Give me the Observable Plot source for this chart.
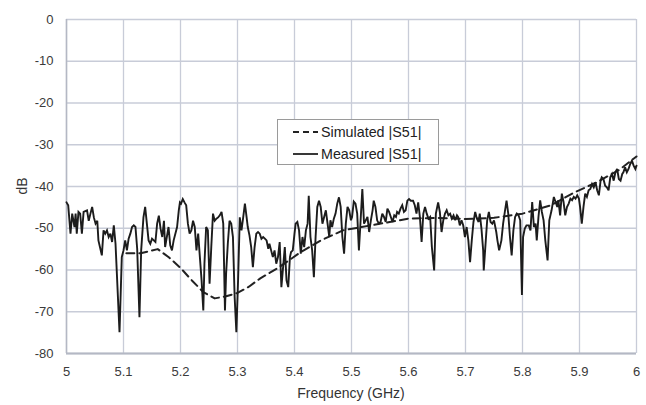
<!DOCTYPE html>
<html>
<head>
<meta charset="utf-8">
<script src="https://cdn.jsdelivr.net/npm/d3@7"></script>
<script src="https://cdn.jsdelivr.net/npm/@observablehq/plot@0.6"></script>
<style>
  html, body { margin: 0; padding: 0; background: #fff; }
  #wrap { position: relative; width: 646px; height: 405px; font-family: "Liberation Sans", Arial, sans-serif; }
  #legend { position: absolute; left: 277px; top: 119px; width: 162px; height: 46px; border: 1px solid #9a9a9a; background: #fff; box-sizing: border-box; font-size: 14.3px; color: #222; }
  .row { position: absolute; left: 0; height: 20px; display: flex; align-items: center; }
  .row svg { margin-left: 15px; margin-right: 3px; }
  .axlabel { position: absolute; font-size: 14px; color: #333; white-space: nowrap; }
  #xlab { left: 0; width: 646px; padding-left: 56px; box-sizing: border-box; text-align: center; top: 385px; }
  #ylab { left: 22px; top: 186px; transform: translate(-50%, -50%) rotate(-90deg); }
</style>
</head>
<body>
<div id="wrap"></div>
<script>
const xTicks = [5, 5.1, 5.2, 5.3, 5.4, 5.5, 5.6, 5.7, 5.8, 5.9, 6];
const yTicks = [0, -10, -20, -30, -40, -50, -60, -70, -80];
const seriesNames = ["Simulated |S51|", "Measured |S51|"];
const xLabel = "Frequency (GHz)";
const yLabel = "dB";

const simFreq = [5.105, 5.13, 5.16, 5.18, 5.20, 5.22, 5.24, 5.26, 5.28, 5.30, 5.32, 5.34, 5.37, 5.41, 5.445, 5.485, 5.555, 5.60, 5.65, 5.70, 5.75, 5.80, 5.85, 5.89, 5.93, 5.97, 6.00];
const simDb   = [-56, -56, -55, -57, -59.5, -62.5, -65.3, -66.8, -66.3, -65.5, -64, -62, -59.6, -55.8, -53, -50.5, -48.8, -47.7, -47.5, -47.8, -47.5, -46.5, -44.5, -41.5, -39, -36, -32.8];

const measFreq = [
5.000,5.003,5.007,5.010,5.014,5.016,5.018,5.021,5.024,5.027,5.030,5.036,5.039,5.042,5.045,5.048,5.051,5.054,5.056,5.062,
5.065,5.068,5.071,5.074,5.077,5.080,5.083,5.086,5.093,5.097,5.100,5.103,5.106,5.109,5.112,5.115,5.118,5.121,5.124,5.128,
5.131,5.135,5.138,5.141,5.144,5.147,5.150,5.156,5.159,5.162,5.165,5.168,5.171,5.173,5.179,5.182,5.185,5.188,5.194,5.197,
5.199,5.201,5.204,5.207,5.210,5.213,5.216,5.219,5.222,5.225,5.228,5.231,5.234,5.237,5.240,5.242,5.245,5.248,5.251,5.254,
5.257,5.260,5.263,5.266,5.269,5.272,5.275,5.278,5.280,5.283,5.286,5.289,5.292,5.295,5.298,5.301,5.304,5.307,5.310,5.313,
5.316,5.318,5.321,5.324,5.327,5.330,5.333,5.336,5.339,5.342,5.345,5.348,5.351,5.354,5.356,5.359,5.362,5.365,5.368,5.371,
5.374,5.377,5.380,5.383,5.386,5.389,5.392,5.394,5.397,5.400,5.402,5.405,5.408,5.411,5.414,5.417,5.420,5.423,5.425,5.428,
5.431,5.434,5.437,5.440,5.443,5.446,5.449,5.452,5.455,5.458,5.461,5.463,5.466,5.469,5.472,5.475,5.478,5.481,5.484,5.487,
5.490,5.493,5.496,5.499,5.501,5.504,5.507,5.510,5.513,5.516,5.519,5.522,5.525,5.528,5.531,5.534,5.537,5.539,5.542,5.545,
5.548,5.551,5.554,5.557,5.560,5.563,5.566,5.569,5.572,5.575,5.578,5.580,5.583,5.586,5.589,5.592,5.595,5.598,5.601,5.604,
5.608,5.611,5.614,5.617,5.620,5.623,5.626,5.629,5.632,5.635,5.638,5.641,5.645,5.648,5.652,5.655,5.658,5.661,5.664,5.667,
5.670,5.673,5.676,5.679,5.682,5.685,5.687,5.690,5.693,5.696,5.699,5.702,5.705,5.708,5.711,5.714,5.717,5.720,5.723,5.725,
5.728,5.731,5.732,5.736,5.738,5.741,5.744,5.747,5.750,5.754,5.756,5.759,5.763,5.766,5.769,5.772,5.775,5.778,5.781,5.784,
5.787,5.790,5.793,5.796,5.799,5.801,5.804,5.807,5.811,5.814,5.817,5.820,5.823,5.825,5.828,5.831,5.834,5.837,5.840,5.844,
5.847,5.851,5.855,5.858,5.861,5.863,5.866,5.869,5.872,5.875,5.878,5.881,5.884,5.887,5.890,5.893,5.896,5.899,5.901,5.904,
5.907,5.910,5.913,5.916,5.919,5.922,5.925,5.928,5.931,5.934,5.937,5.939,5.942,5.945,5.948,5.951,5.954,5.957,5.960,5.963,
5.966,5.969,5.972,5.975,5.977,5.980,5.983,5.986,5.989,5.992,5.995,5.998,6.000
];
const measDb = [
-43.8,-44.5,-51.3,-46.5,-49.7,-46.5,-51.3,-46.1,-46.5,-51.3,-46.1,-45.7,-48.2,-46.5,-44.9,-47.4,-48.9,-48.2,-52.9,-56.5,
-50.5,-51.3,-50.5,-52.1,-51.3,-53.3,-49.3,-53.7,-74.9,-56.9,-55.3,-52.9,-55.3,-52.5,-51.3,-49.7,-49.3,-49.7,-54.9,-71.3,
-55.3,-47.4,-44.9,-48.9,-52.9,-53.7,-52.5,-53.3,-48.9,-47.0,-50.1,-52.1,-48.2,-54.5,-49.7,-54.1,-55.3,-52.9,-49.7,-45.7,
-43.8,-44.1,-43.0,-43.8,-44.5,-48.9,-51.3,-50.5,-48.2,-49.7,-55.3,-51.3,-56.9,-62.5,-69.7,-58.5,-49.7,-50.5,-63.3,-54.5,
-46.5,-48.2,-47.7,-47.4,-46.9,-46.1,-48.9,-69.7,-60.9,-53.7,-48.2,-48.9,-52.1,-66.5,-74.9,-62.5,-47.4,-50.5,-47.4,-44.1,
-47.4,-49.7,-51.7,-54.5,-59.3,-54.5,-51.3,-50.9,-51.3,-52.5,-52.1,-52.5,-52.9,-54.9,-53.7,-55.3,-56.9,-55.3,-58.5,-56.9,
-53.3,-64.1,-59.3,-54.5,-62.5,-64.1,-56.9,-55.7,-55.3,-51.3,-48.9,-48.5,-50.5,-56.1,-52.1,-54.5,-50.5,-48.9,-42.2,-52.1,
-55.3,-61.7,-52.1,-44.9,-43.4,-44.9,-48.9,-47.3,-45.7,-48.9,-52.1,-48.1,-49.7,-47.7,-46.5,-44.1,-42.6,-44.9,-52.1,-56.1,
-48.9,-44.9,-45.7,-48.1,-47.3,-43.6,-44.1,-46.5,-55.3,-48.1,-40.6,-48.9,-48.1,-47.3,-50.9,-48.1,-45.7,-43.4,-44.9,-48.1,
-48.9,-48.5,-46.5,-47.3,-48.5,-45.3,-46.1,-47.3,-48.5,-46.9,-47.3,-46.1,-46.5,-45.3,-44.5,-46.1,-45.7,-43.4,-43.0,-43.4,
-43.4,-44.5,-46.5,-43.8,-47.3,-53.3,-46.5,-44.9,-46.5,-47.7,-47.3,-54.5,-60.1,-46.5,-43.8,-46.1,-50.9,-48.1,-46.5,-45.7,
-46.9,-46.5,-47.7,-46.9,-48.1,-46.9,-47.3,-49.3,-48.1,-49.3,-52.1,-49.7,-52.9,-58.1,-52.9,-48.5,-46.1,-47.7,-48.5,-46.5,
-50.1,-55.3,-60.1,-52.1,-48.1,-46.1,-48.5,-48.9,-48.1,-50.9,-52.9,-55.3,-52.9,-48.9,-46.1,-43.4,-46.5,-52.1,-56.5,-50.5,
-47.3,-46.5,-46.9,-48.1,-66.0,-52.1,-50.1,-49.3,-49.3,-50.5,-43.7,-49.7,-48.9,-52.9,-47.3,-43.3,-46.1,-48.1,-52.9,-57.7,
-48.1,-45.7,-42.5,-43.7,-44.9,-43.3,-46.9,-41.7,-43.7,-46.9,-44.9,-44.1,-42.9,-43.3,-42.5,-42.9,-42.1,-42.9,-44.9,-48.9,
-44.9,-41.7,-42.5,-40.9,-40.6,-39.4,-40.2,-39.0,-40.9,-42.1,-38.6,-37.8,-38.2,-39.8,-40.2,-40.9,-37.8,-37.0,-38.6,-36.6,
-35.8,-38.2,-38.6,-37.0,-36.6,-35.4,-36.6,-35.8,-34.6,-33.8,-35.0,-35.8,-35.0
];

const sim = simFreq.map((f, i) => ({f, db: simDb[i]}));
const meas = measFreq.map((f, i) => ({f, db: measDb[i]}));

const chart = Plot.plot({
  width: 646,
  height: 405,
  marginLeft: 66,
  marginRight: 10,
  marginTop: 19,
  marginBottom: 52,
  style: {fontFamily: "'Liberation Sans', Arial, sans-serif", fontSize: "13px", color: "#3a3a3a", background: "#fff"},
  x: {domain: [5, 6], ticks: xTicks, tickSize: 0, tickPadding: 13, label: null, tickFormat: d => String(d)},
  y: {domain: [-80, 0], ticks: yTicks, tickSize: 0, tickPadding: 13, label: null, tickFormat: d => String(d)},
  marks: [
    Plot.ruleX(xTicks, {stroke: "#c8ccd8", strokeWidth: 1.3}),
    Plot.ruleY(yTicks, {stroke: "#c8ccd8", strokeWidth: 1.3}),
    Plot.ruleY([-80], {stroke: "#b4b8c4", strokeWidth: 2}),
    Plot.ruleX([5], {stroke: "#b4b8c4", strokeWidth: 1.5}),
    Plot.line(sim, {x: "f", y: "db", stroke: "#222", strokeWidth: 2, strokeDasharray: "8,5"}),
    Plot.line(meas, {x: "f", y: "db", stroke: "#1c1c1c", strokeWidth: 1.9, strokeLinejoin: "miter", strokeMiterlimit: 3})
  ]
});

const wrap = document.getElementById("wrap");
wrap.appendChild(chart);

const xl = document.createElement("div");
xl.id = "xlab"; xl.className = "axlabel"; xl.textContent = xLabel;
wrap.appendChild(xl);
const yl = document.createElement("div");
yl.id = "ylab"; yl.className = "axlabel"; yl.textContent = yLabel;
wrap.appendChild(yl);

const legend = document.createElement("div");
legend.id = "legend";
const dashes = ["6,4", null];
seriesNames.forEach((name, i) => {
  const row = document.createElement("div");
  row.className = "row";
  row.style.top = (i === 0 ? 2 : 24) + "px";
  const dash = dashes[i] ? ` stroke-dasharray="${dashes[i]}"` : "";
  row.innerHTML = `<svg width="25" height="10"><line x1="0" y1="5" x2="25" y2="5" stroke="#222" stroke-width="1.8"${dash}/></svg><span>${name}</span>`;
  legend.appendChild(row);
});
wrap.appendChild(legend);
</script>
</body>
</html>
